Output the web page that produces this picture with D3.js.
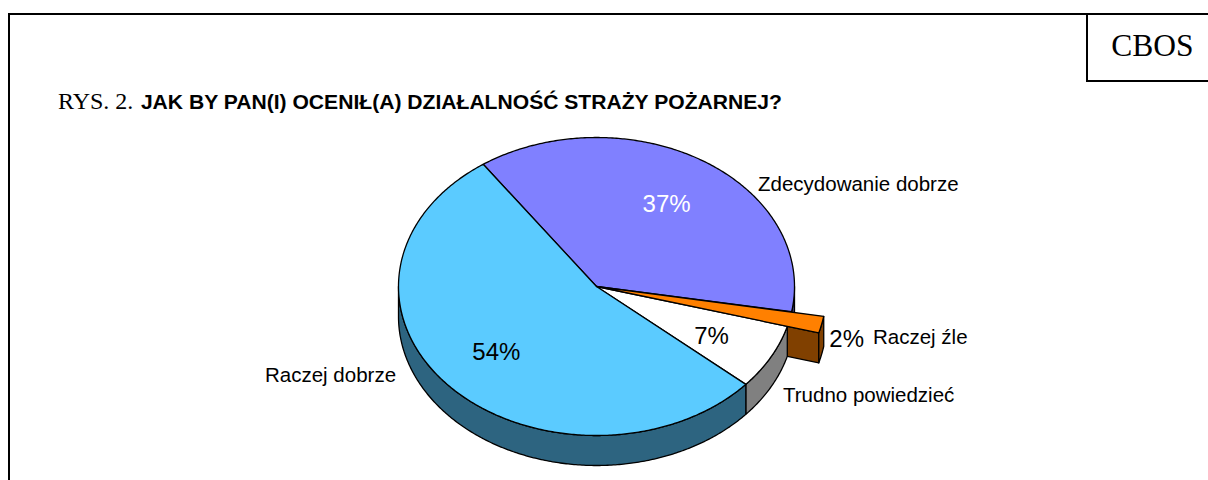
<!DOCTYPE html>
<html><head><meta charset="utf-8">
<script src="https://cdn.jsdelivr.net/npm/d3@7/dist/d3.min.js"></script>
<style>html,body{margin:0;padding:0;background:#fff;overflow:hidden}svg{display:block}</style>
</head><body><svg id="c" width="1208" height="480"></svg>
<script>
// Data, clockwise from the upper-left edge of the purple slice
const categories = ["Zdecydowanie dobrze", "Raczej źle", "Trudno powiedzieć", "Raczej dobrze"];
const values = [37.4, 1.6, 7.1, 53.9];
const percentLabels = ["37%", "2%", "7%", "54%"];
const topColors = ["#8080ff", "#ff8000", "#ffffff", "#5bcbff"];
const sideColors = ["#404080", "#804000", "#808080", "#2d6480"];
const exploded = ["Raczej źle"];

const W = 1208, H = 480;
const cx = 596.5, cy = 286.5, rx = 198, ry = 149, depth = 30, explodeR = 1.165;
const startDeg = -34.9;
const svg = d3.select("#c");

const pie = d3.pie().sort(null).value(d => d)
  .startAngle(startDeg * Math.PI / 180)
  .endAngle((startDeg + 360) * Math.PI / 180);
const arcs = pie(values).map((a, i) => ({...a, name: categories[i], top: topColors[i], side: sideColors[i], pct: percentLabels[i]}));

const px = (t, r) => cx + rx * r * Math.sin(t);
const py = (t, r, z = 0) => cy - ry * r * Math.cos(t) + z;
const line = d3.line();
function arcPts(a0, a1, r, z = 0) {
  const n = Math.max(2, Math.ceil(Math.abs(a1 - a0) / 0.01));
  return d3.range(n + 1).map(i => { const t = a0 + (a1 - a0) * i / n; return [px(t, r), py(t, r, z)]; });
}
const stroke = (sel, w = 1.3) => sel.attr("stroke", "#000").attr("stroke-width", w).attr("stroke-linejoin", "round");

const ex = arcs.find(a => exploded.includes(a.name));
const exA1 = ex.endAngle;
const exStart = 99.9 * Math.PI / 180;
const frontEnd = 3 * Math.PI / 2;

function drawWall(a) {
  const a0 = Math.max(a.startAngle, Math.PI / 2), a1 = Math.min(a.endAngle, frontEnd);
  if (a1 <= a0) return;
  const pts = arcPts(a0, a1, 1).concat(arcPts(a1, a0, 1, depth));
  stroke(svg.append("path").attr("d", line(pts) + "Z").attr("fill", a.side));
}

// Walls of slices before the exploded one
arcs.filter(a => a.endAngle <= ex.startAngle).forEach(drawWall);

// Exploded slice: cut face and outer wall
stroke(svg.append("path").attr("fill", ex.side).attr("d", line([
  [px(0, 0), py(0, 0)], [px(exA1, explodeR), py(exA1, explodeR)],
  [px(exA1, explodeR), py(exA1, explodeR, depth)], [px(0, 0), py(0, 0, depth)]]) + "Z"));
stroke(svg.append("path").attr("fill", ex.side).attr("d",
  line(arcPts(exStart, exA1, explodeR).concat(arcPts(exA1, exStart, explodeR, depth))) + "Z"));

// Walls of slices after the exploded one
arcs.filter(a => a.startAngle >= ex.endAngle).forEach(drawWall);

// Top faces of the regular slices
arcs.filter(a => !exploded.includes(a.name)).forEach(a => {
  const pts = [[px(0, 0), py(0, 0)]].concat(arcPts(a.startAngle, a.endAngle, 1));
  stroke(svg.append("path").attr("d", line(pts) + "Z").attr("fill", a.top));
});
// Top face of the exploded slice
stroke(svg.append("path").attr("fill", ex.top).attr("d",
  line([[px(0, 0), py(0, 0)]].concat(arcPts(exStart, exA1, explodeR))) + "Z"));

// Percentage labels
const pctPlace = {"37%": {r: .66, dx: 0, dy: 0, fill: "#fff"}, "2%": {r: 1.3, dx: -1, dy: 10, fill: "#000"},
                  "7%": {r: .66, dx: 0, dy: 2, fill: "#000"}, "54%": {r: .68, dx: 0, dy: -3, fill: "#000"}};
arcs.forEach(a => {
  const m = (a.startAngle + a.endAngle) / 2, p = pctPlace[a.pct];
  svg.append("text").text(a.pct)
    .attr("x", px(m, p.r) + p.dx).attr("y", py(m, p.r) + p.dy)
    .attr("text-anchor", "middle").attr("dominant-baseline", "central")
    .attr("font-family", "Liberation Sans").attr("font-size", 24).attr("fill", p.fill);
});

// Category labels
const namePlace = {"Zdecydowanie dobrze": [758, 191], "Raczej źle": [873, 344], "Trudno powiedzieć": [783, 402], "Raczej dobrze": [265, 382]};
arcs.forEach(a => {
  const [x, y] = namePlace[a.name];
  svg.append("text").text(a.name).attr("x", x).attr("y", y)
    .attr("font-family", "Liberation Sans").attr("font-size", 20.5).attr("fill", "#000");
});

// Frame
const frame = d3.path();
frame.moveTo(9, H); frame.lineTo(9, 14); frame.lineTo(W, 14);
frame.moveTo(1087, 14); frame.lineTo(1087, 81); frame.lineTo(W, 81);
svg.append("path").attr("d", frame.toString()).attr("fill", "none").attr("stroke", "#000").attr("stroke-width", 2);
svg.append("text").text("CBOS").attr("x", 1152.5).attr("y", 56).attr("text-anchor", "middle")
  .attr("font-family", "Liberation Serif").attr("font-size", 31.5);

// Title
const title = svg.append("text").attr("x", 58).attr("y", 109);
title.append("tspan").text("RYS. 2. ").attr("font-family", "Liberation Serif").attr("font-size", 24);
title.append("tspan").text("JAK BY PAN(I) OCENIŁ(A) DZIAŁALNOŚĆ STRAŻY POŻARNEJ?").attr("dx", 1.5)
  .attr("font-family", "Liberation Sans").attr("font-weight", "bold").attr("font-size", 21.1);
</script></body></html>
